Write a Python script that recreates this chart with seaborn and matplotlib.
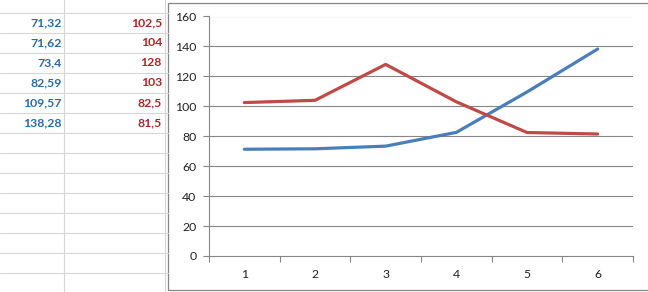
import matplotlib
matplotlib.use("Agg")
import matplotlib.pyplot as plt
import seaborn as sns
import pandas as pd
from matplotlib.patches import Rectangle
from matplotlib.lines import Line2D

categories = [1, 2, 3, 4, 5, 6]
series_blue = [71.32, 71.62, 73.4, 82.59, 109.57, 138.28]
series_red = [102.5, 104, 128, 103, 82.5, 81.5]
y_ticks = [0, 20, 40, 60, 80, 100, 120, 140, 160]

BLUE = "#4A7EBB"
RED = "#BE4B48"
CELL_BLUE = "#2A6CA6"
CELL_RED = "#A8282A"

sns.set_theme(style="white")
plt.rcParams["font.family"] = ["Lato", "DejaVu Sans"]

W, H = 648, 292
fig = plt.figure(figsize=(W / 100, H / 100), dpi=100)
fig.patch.set_facecolor("white")

def fx(px):
    return px / W

def fy(py):
    return 1 - py / H

# spreadsheet grid lines
grid_c = "#D6D6D6"
for yy in range(13, 292, 20):
    fig.add_artist(Line2D([0, fx(168)], [fy(yy), fy(yy)], color=grid_c, lw=0.8))
for xx in [64, 165]:
    fig.add_artist(Line2D([fx(xx), fx(xx)], [0, 1], color=grid_c, lw=0.8))

# cell values
for i, (b, r) in enumerate(zip(series_blue, series_red)):
    yc = fy(23 + 20 * i)
    fig.text(fx(62), yc, f"{b:g}".replace(".", ","), color=CELL_BLUE,
             ha="right", va="center", fontsize=8.8, fontweight="bold")
    fig.text(fx(162), yc, f"{r:g}".replace(".", ","), color=CELL_RED,
             ha="right", va="center", fontsize=8.8, fontweight="bold")

# chart area frame
fig.add_artist(Rectangle((fx(168), fy(290)), fx(500), fy(3) - fy(290),
                         facecolor="white", edgecolor="#868686", lw=0.9,
                         zorder=1))

ax = fig.add_axes([fx(209), fy(256), fx(633 - 209), fy(16.5) - fy(256)])
ax.set_zorder(2)
ax.patch.set_alpha(0)

df = pd.DataFrame({
    "cat": categories * 2,
    "val": series_blue + series_red,
    "series": ["blue"] * 6 + ["red"] * 6,
})
sns.lineplot(data=df, x="cat", y="val", hue="series",
             palette={"blue": BLUE, "red": RED}, lw=2.3, ax=ax,
             legend=False, sort=False)

ax.set_xlim(0.5, 6.5)
ax.set_ylim(0, 160)
ax.set_yticks(y_ticks)
ax.set_xticks(categories)
ax.set_xticks([c - 0.5 for c in categories] + [6.5], minor=True)
ax.set_xlabel("")
ax.set_ylabel("")
for y in y_ticks[1:]:
    ax.axhline(y, color="#868686", lw=0.8, zorder=0)
for s in ["top", "right"]:
    ax.spines[s].set_visible(False)
for s in ["left", "bottom"]:
    ax.spines[s].set_color("#868686")
    ax.spines[s].set_linewidth(0.8)
ax.tick_params(axis="y", which="major", length=4, width=0.8, color="#868686",
               direction="out", labelsize=8.8, pad=5, left=True)
ax.tick_params(axis="x", which="major", length=0, labelsize=8.8, pad=9)
ax.tick_params(axis="x", which="minor", length=4, width=0.8, color="#868686",
               direction="out", bottom=True)
for lab in ax.get_xticklabels() + ax.get_yticklabels():
    lab.set_color("#222222")

fig.savefig("out.png", dpi=100)
